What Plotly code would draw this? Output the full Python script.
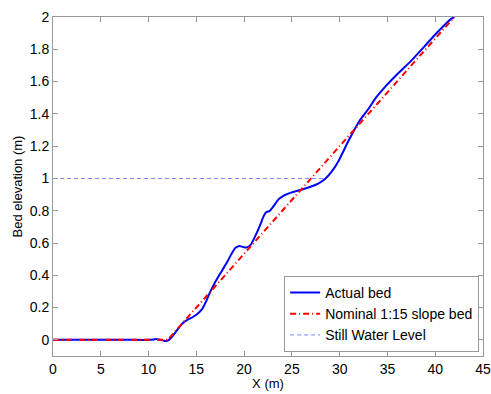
import plotly.graph_objects as go

# Actual bed profile
bed_x = [0, 2, 4, 6, 8, 10, 10.5, 10.8, 11.1, 11.5, 11.8, 12.1, 12.6, 13.1, 13.6, 14.1, 14.6,
         15.1, 15.6, 16.0, 16.4, 16.9, 17.7, 18.3, 18.7, 19.1, 19.5, 19.9, 20.3, 20.7, 21.1,
         21.6, 22.0, 22.3, 22.7, 23.1, 23.6, 24.2, 24.9, 25.7, 26.8, 27.8, 28.5, 29.2, 29.9,
         30.9, 32.0, 33.0, 33.8, 34.8, 36.1, 37.5, 38.9, 40.3, 41.7, 42.0]
bed_y = [0, 0, 0, 0, 0, 0, 0.002, 0.005, 0.002, -0.004, -0.007, -0.002, 0.03, 0.07, 0.105,
         0.125, 0.14, 0.16, 0.19, 0.235, 0.29, 0.35, 0.43, 0.49, 0.535, 0.57, 0.582, 0.575,
         0.572, 0.59, 0.635, 0.70, 0.76, 0.79, 0.80, 0.83, 0.87, 0.895, 0.912, 0.925, 0.945,
         0.97, 0.998, 1.045, 1.11, 1.23, 1.35, 1.43, 1.50, 1.57, 1.65, 1.73, 1.82, 1.91, 1.99,
         2.0]

# Nominal 1:15 slope bed
nom_x = [0, 12, 42]
nom_y = [0, 0, 2]

# Still water level
swl_x = [0, 28.3]
swl_y = [1, 1]

x_ticks = [0, 5, 10, 15, 20, 25, 30, 35, 40, 45]
y_ticks = [0, 0.2, 0.4, 0.6, 0.8, 1, 1.2, 1.4, 1.6, 1.8, 2]

font = "Liberation Sans, Arial, Helvetica, sans-serif"

fig = go.Figure()
fig.add_trace(go.Scatter(x=bed_x, y=bed_y, mode="lines", name="Actual bed",
                         line=dict(color="#0000ff", width=2, shape="spline", smoothing=0.5)))
fig.add_trace(go.Scatter(x=nom_x, y=nom_y, mode="lines", name="Nominal 1:15 slope bed",
                         line=dict(color="#ff0000", width=2, dash="6px,3px,1px,3px")))
fig.add_trace(go.Scatter(x=swl_x, y=swl_y, mode="lines", name="Still Water Level",
                         line=dict(color="#7f7fff", width=1, dash="4px,3px")))

axis_common = dict(showline=True, linecolor="#999999", linewidth=1, mirror="ticks",
                   ticks="inside", ticklen=5, tickcolor="#999999", showgrid=False,
                   zeroline=False, automargin=False,
                   tickfont=dict(size=14, color="black", family=font))

fig.update_xaxes(range=[0, 45], tickvals=x_ticks,
                 title=dict(text="X (m)", font=dict(size=13, color="black", family=font), standoff=3),
                 **axis_common)
fig.update_yaxes(range=[-0.1, 2], tickvals=y_ticks,
                 title=dict(text="Bed elevation (m)", font=dict(size=13, color="black", family=font), standoff=4),
                 **axis_common)

fig.update_layout(
    width=491, height=394,
    margin=dict(l=53, r=8, t=17, b=38),
    plot_bgcolor="white", paper_bgcolor="white",
    font=dict(family=font, color="black"),
    legend=dict(x=0.991, xanchor="right", y=0.012, yanchor="bottom",
                bordercolor="#999999", borderwidth=1, bgcolor="white",
                font=dict(size=14, color="black", family=font), itemwidth=30,
                tracegroupgap=0),
)

fig.write_html("out.html")
